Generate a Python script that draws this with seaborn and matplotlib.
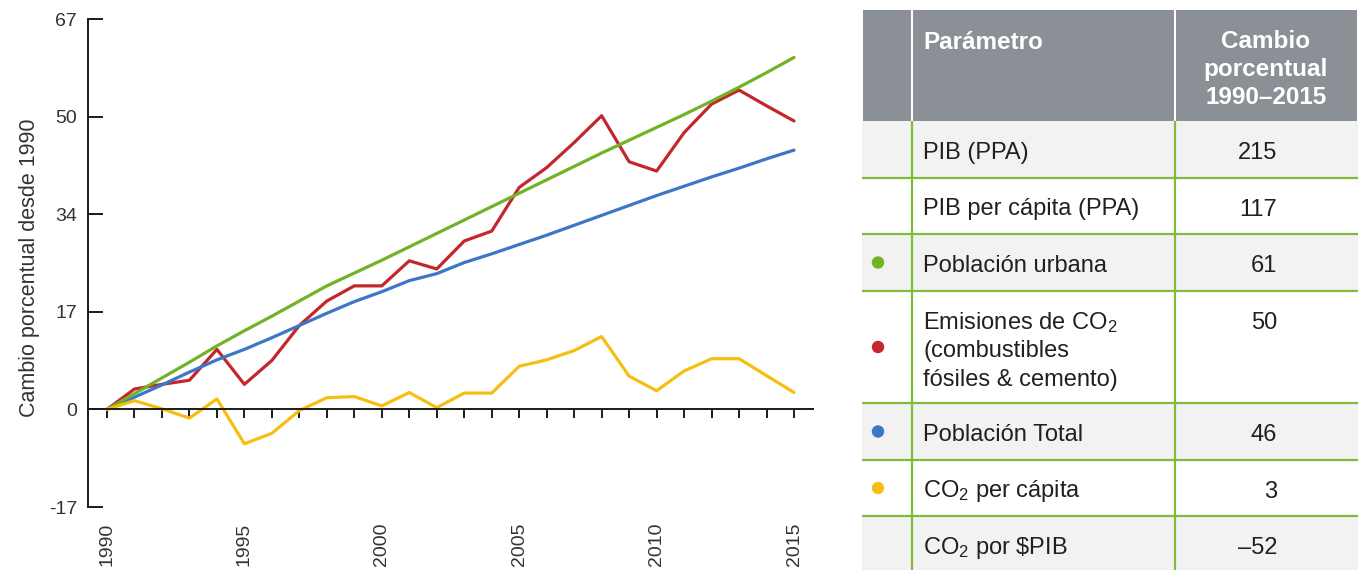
import numpy as np
import pandas as pd
import matplotlib
matplotlib.use('Agg')
import matplotlib.pyplot as plt
from matplotlib.patches import Rectangle
import seaborn as sns

# ---- data ----
years = list(range(1990, 2016))

urban_pop = [0.0, 2.7, 5.4, 8.1, 10.9, 13.5, 16.0, 18.6, 21.2, 23.4,
             25.6, 27.9, 30.2, 32.5, 34.8, 37.1, 39.4, 41.7, 44.0, 46.2,
             48.4, 50.6, 52.9, 55.3, 57.8, 60.4]
co2_emissions = [0.0, 3.5, 4.3, 5.0, 10.3, 4.3, 8.4, 14.4, 18.6, 21.2,
                 21.2, 25.5, 24.1, 28.9, 30.6, 38.1, 41.5, 45.8, 50.4, 42.5,
                 40.9, 47.5, 52.4, 54.8, 52.1, 49.5]
total_pop = [0.0, 2.1, 4.2, 6.4, 8.5, 10.3, 12.3, 14.4, 16.5, 18.5,
             20.2, 22.1, 23.3, 25.2, 26.7, 28.3, 29.9, 31.6, 33.3, 35.0,
             36.7, 38.3, 39.9, 41.4, 43.0, 44.5]
co2_per_capita = [0.0, 1.5, 0.1, -1.5, 1.8, -5.9, -4.1, -0.2, 2.0, 2.2,
                  0.6, 2.9, 0.3, 2.8, 2.8, 7.4, 8.5, 10.1, 12.5, 5.7,
                  3.2, 6.6, 8.7, 8.7, 5.8, 2.9]

series_names = ['Emisiones de CO2', 'Población Total', 'Población urbana', 'CO2 per cápita']
ytick_labels = ['-17', '0', '17', '34', '50', '67']
xtick_label_years = [1990, 1995, 2000, 2005, 2010, 2015]

param_labels = ['PIB (PPA)', 'PIB per cápita (PPA)', 'Población urbana',
                'Emisiones de CO$_2$\n(combustibles\nfósiles & cemento)',
                'Población Total', 'CO$_2$ per cápita', 'CO$_2$ por \\$PIB']
change_values = ['215', '117', '61', '50', '46', '3', '–52']

GREEN = '#72b226'
RED = '#c3272b'
BLUE = '#3b77c6'
YELLOW = '#f7be12'
GRID_GREEN = '#82ba3c'
HEADER_GRAY = '#8b9096'
ROW_GRAY = '#f2f2f2'
TEXT = '#231f20'

dot_colors = [None, None, GREEN, RED, BLUE, YELLOW, None]
palette = {'Emisiones de CO2': RED, 'Población Total': BLUE,
           'Población urbana': GREEN, 'CO2 per cápita': YELLOW}

# ---- style ----
sns.set_style('ticks')
plt.rcParams['font.family'] = ['Liberation Sans', 'DejaVu Sans']
plt.rcParams['mathtext.fontset'] = 'custom'
plt.rcParams['mathtext.rm'] = 'Liberation Sans'
plt.rcParams['mathtext.it'] = 'Liberation Sans:italic'
plt.rcParams['mathtext.bf'] = 'Liberation Sans:bold'
plt.rcParams['mathtext.default'] = 'rm'

W, H = 1367, 570
fig = plt.figure(figsize=(W / 100, H / 100), dpi=100)

# ---- line chart ----
df = pd.DataFrame({
    'year': years * 4,
    'value': co2_emissions + total_pop + urban_pop + co2_per_capita,
    'serie': sum([[n] * len(years) for n in series_names], []),
})

ax = fig.add_axes([88 / W, 1 - 507 / H, (813 - 88) / W, (507 - 19) / H])
sns.lineplot(data=df, x='year', y='value', hue='serie', palette=palette,
             hue_order=series_names, linewidth=2.3, legend=False, ax=ax)

Y_MIN, Y_MAX = -16.75, 67
ax.set_ylim(Y_MIN, Y_MAX)
ax.set_xlim(1989.31, 2015.69)
ax.set_yticks(np.linspace(Y_MIN, Y_MAX, len(ytick_labels)))
ax.set_yticklabels(ytick_labels)
ax.set_xticks(years)
ax.set_xlabel('')

for side in ['top', 'right']:
    ax.spines[side].set_visible(False)
ax.spines['bottom'].set_position(('data', 0))
for side in ['left', 'bottom']:
    ax.spines[side].set_linewidth(1.4)
    ax.spines[side].set_color('#1a1a1a')

ax.tick_params(axis='y', direction='in', length=10.8, width=1.4, pad=8,
               labelsize=14, labelcolor='#333333', color='#1a1a1a', left=True)
ax.tick_params(axis='x', direction='out', length=6.5, width=1.4,
               labelbottom=False, bottom=True, color='#1a1a1a')

ax.set_ylabel('Cambio porcentual desde 1990', fontsize=15.5, color='#333333')
ax.yaxis.set_label_coords(-0.0662, 0.4908)

sec = ax.secondary_xaxis('bottom')
sec.set_xticks(xtick_label_years)
sec.set_xticklabels([str(y) for y in xtick_label_years], rotation=90)
sec.tick_params(axis='x', length=0, pad=11, labelsize=14, labelcolor='#333333')
sec.spines['bottom'].set_visible(False)

# ---- table ----
tbl = fig.add_axes([862 / W, 0, (1358 - 862) / W, 1])
tbl.set_xlim(862, 1358)
tbl.set_ylim(H, 0)
tbl.axis('off')

row_edges = [121, 178, 234, 291, 403, 460, 516, 573]
col_dot, col_sep1, col_sep2 = 878, 912, 1175
text_x, value_x = 923, 1277
line_h = 28.5

tbl.add_patch(Rectangle((863, 10), 494, 111, facecolor=HEADER_GRAY, edgecolor='none'))
tbl.vlines([col_sep1, col_sep2], 10, 121, colors='white', linewidth=1.5)
tbl.text(text_x, 49, 'Parámetro', fontsize=17.5, fontweight='bold',
         color='white', va='baseline', ha='left')
for i, line in enumerate(['Cambio', 'porcentual', '1990–2015']):
    tbl.text((col_sep2 + 1357) / 2, 47.5 + i * line_h, line, fontsize=17.5,
             fontweight='bold', color='white', va='baseline', ha='center')

for i, (label, value, dot) in enumerate(zip(param_labels, change_values, dot_colors)):
    top, bottom = row_edges[i], row_edges[i + 1]
    if i % 2 == 0:
        tbl.add_patch(Rectangle((862, top), 496, bottom - top,
                                facecolor=ROW_GRAY, edgecolor='none', zorder=0))
    lines = label.split('\n')
    if len(lines) == 1:
        base = (top + bottom) / 2 + 9.5
    else:
        base = top + 38
    for j, line in enumerate(lines):
        tbl.text(text_x, base + j * line_h, line, fontsize=17,
                 color=TEXT, va='baseline', ha='left')
    tbl.text(value_x, base, value, fontsize=17, color=TEXT,
             va='baseline', ha='right')
    if dot is not None:
        tbl.scatter([col_dot], [(top + bottom) / 2], s=80, color=dot,
                    edgecolor='none', zorder=3)

tbl.hlines(row_edges[1:-1], 862, 1358, colors=GRID_GREEN, linewidth=1.6, zorder=2)
tbl.vlines([col_sep1, col_sep2], 121, H, colors=GRID_GREEN, linewidth=1.6, zorder=2)

fig.savefig('out.png', dpi=100)
